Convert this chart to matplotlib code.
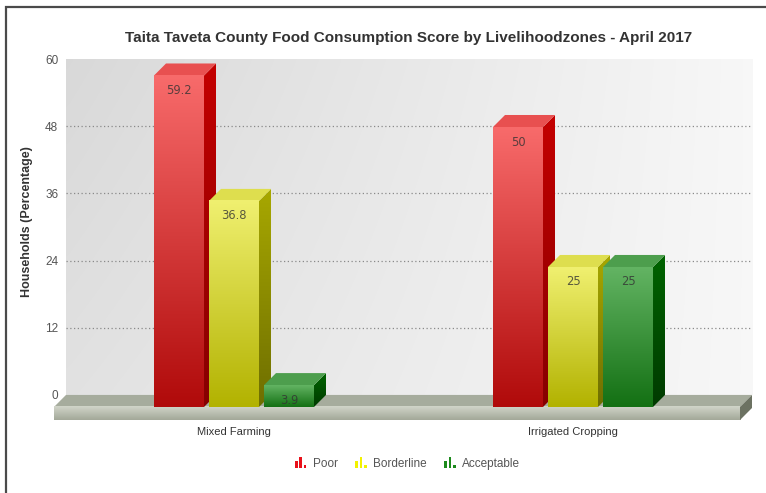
import numpy as np
import matplotlib
matplotlib.use("Agg")
import matplotlib.pyplot as plt
from matplotlib.patches import Polygon, Rectangle
from matplotlib.legend_handler import HandlerBase
from matplotlib.colors import LinearSegmentedColormap

# ---- data ----
zones = ["Mixed Farming", "Irrigated Cropping"]
series = ["Poor", "Borderline", "Acceptable"]
poor = [59.2, 50]
borderline = [36.8, 25]
acceptable = [3.9, 25]
y_ticks = [0, 12, 24, 36, 48, 60]
title = "Taita Taveta County Food Consumption Score by Livelihoodzones - April 2017"
y_title = "Households (Percentage)"

values = [poor, borderline, acceptable]

# colours per series: front top, front bottom, side top, side bottom, top face, legend
styles = {
    "Poor":       dict(ft="#f86b6b", fb="#b00a0a", st="#c40000", sb="#860000", top="#e85050", leg="#e8101a"),
    "Borderline": dict(ft="#f0f070", fb="#b2b200", st="#a8a800", sb="#6e6e00", top="#dede4e", leg="#f2f200"),
    "Acceptable": dict(ft="#63b463", fb="#137013", st="#006400", sb="#003a00", top="#4d9e4d", leg="#1c8a1c"),
}

# ---- figure / axes geometry ----
W, H = 766, 493
DPI = 100
fig = plt.figure(figsize=(W / DPI, H / DPI), dpi=DPI)
fig.patch.set_facecolor("white")

px_group = 339.0          # pixels between group centres
px_val = 335.0 / 60.0     # pixels per percentage point
depth_px = 12.0           # 3D depth offset
floor_px = 13.0           # floor slab thickness

DX = depth_px / px_group
DY = depth_px / px_val
FT = floor_px / px_val

xb0, xmax = -0.531, 1.4926            # back plane horizontal extent
xmin = xb0 - DX
ymin = -DY - FT
ax_left, ax_right, ax_top, ax_bot = 54, 752, 59, 420
ax = fig.add_axes([ax_left / W, 1 - ax_bot / H, (ax_right - ax_left) / W, (ax_bot - ax_top) / H])
ax.set_facecolor("none")
for s in ax.spines.values():
    s.set_visible(False)

# ---- back plane with soft grey gradient ----
gx = np.linspace(0, 1, 200)
gy = np.linspace(0, 1, 120)
GX, GY = np.meshgrid(gx, gy)
shade = 0.85 + 0.12 * GX + 0.035 * (1 - GY) * (1 - GX)
shade = np.clip(shade, 0, 1)
bg = np.dstack([shade, shade, shade])
ax.imshow(bg, extent=(xb0, xmax, 0, 60), origin="lower", aspect="auto",
          interpolation="bicubic", zorder=0)

# dotted grid lines on the back plane
ax.hlines(y_ticks[1:-1], xb0, xmax, colors="#8a8a8a", linestyles=(0, (1, 2)),
          linewidth=0.9, zorder=1)


def vgrad(x0, x1, y0, y1, c_top, c_bot, z, clip=None):
    cmap = LinearSegmentedColormap.from_list("g", [c_bot, c_top])
    g = np.linspace(0, 1, 256).reshape(-1, 1)
    im = ax.imshow(g, cmap=cmap, extent=(x0, x1, y0, y1), origin="lower",
                   aspect="auto", interpolation="bicubic", zorder=z)
    if clip is not None:
        im.set_clip_path(clip)
    return im


# ---- floor slab ----
floor_top = Polygon([(xb0, 0), (xmax, 0), (xmax - DX, -DY), (xb0 - DX, -DY)],
                    closed=True, facecolor="#a6ac9d", edgecolor="none", zorder=2)
ax.add_patch(floor_top)
vgrad(xb0 - DX, xmax - DX, -DY - FT, -DY, "#d2d5ca", "#a2a898", 2)
floor_side = Polygon([(xmax - DX, -DY), (xmax, 0), (xmax, -FT), (xmax - DX, -DY - FT)],
                     closed=True, facecolor="#6c7262", edgecolor="none", zorder=2)
ax.add_patch(floor_side)

# ---- 3D bars ----
bar_w = 50.0 / px_group
bar_step = 55.0 / px_group
z = 3
for gi in range(len(zones)):
    for si, name in enumerate(series):
        v = values[si][gi]
        st = styles[name]
        x0 = gi + (si - 1) * bar_step - bar_w / 2
        x1 = x0 + bar_w
        # side face
        side = Polygon([(x1 - DX, -DY), (x1, 0), (x1, v), (x1 - DX, v - DY)],
                       closed=True, transform=ax.transData, facecolor="none", edgecolor="none")
        ax.add_patch(side)
        vgrad(x1 - DX, x1, -DY, v, st["st"], st["sb"], z, clip=side)
        # top face
        ax.add_patch(Polygon([(x0 - DX, v - DY), (x1 - DX, v - DY), (x1, v), (x0, v)],
                             closed=True, facecolor=st["top"], edgecolor="none", zorder=z))
        # front face
        vgrad(x0 - DX, x1 - DX, -DY, v - DY, st["ft"], st["fb"], z + 0.5)
        # value label
        ax.annotate(f"{v:g}", ((x0 + x1) / 2 - DX, v - DY), xytext=(0, -15),
                    textcoords="offset pixels", ha="center", va="center",
                    fontsize=8.3, color="#333333", alpha=0.8, zorder=z + 0.8,
                    family="DejaVu Sans")
        z += 1

ax.set_xlim(xmin, xmax)
ax.set_ylim(ymin, 60)

# ---- axes text ----
ax.set_yticks(y_ticks)
ax.set_yticklabels([str(t) for t in y_ticks])
ax.tick_params(axis="y", length=0, pad=-3, labelsize=8.5, labelcolor="#555555")
for lab in ax.get_yticklabels():
    lab.set_family("Liberation Sans")

ax.set_xticks([gi - DX for gi in range(len(zones))])
ax.set_xticklabels(zones)
ax.tick_params(axis="x", length=0, pad=5, labelsize=8, labelcolor="#333333")
for lab in ax.get_xticklabels():
    lab.set_family("Liberation Sans")

ax.set_ylabel(y_title, fontsize=9, fontweight="bold", color="#333333",
              family="Liberation Sans")
ax.yaxis.set_label_coords(-0.03, (ax_bot - 222) / (ax_bot - ax_top))

fig.text(0.533, 1 - 38 / H, title, ha="center", va="center", fontsize=11,
         fontweight="bold", color="#333333", family="Liberation Sans")

# outer frame
fig.add_artist(Rectangle((6 / W, -0.2), 1.3, 1 - 7 / H + 0.2, transform=fig.transFigure,
                         fill=False, edgecolor="#4a4a4a", linewidth=1.6))


# ---- legend with small bar-chart glyphs ----
class BarGlyph(HandlerBase):
    def create_artists(self, legend, orig_handle, xdescent, ydescent,
                       width, height, fontsize, trans):
        col = orig_handle.get_facecolor()
        bw = width * 0.22
        step = width * 0.38
        arts = []
        for i, h in enumerate([0.65, 1.0, 0.3]):
            r = Rectangle((-xdescent + i * step, -ydescent - height * 0.1), bw,
                          height * 1.3 * h, facecolor=col, edgecolor="none", transform=trans)
            arts.append(r)
        return arts


handles = [Rectangle((0, 0), 1, 1, facecolor=styles[n]["leg"]) for n in series]
leg = fig.legend(handles, series, loc="center", bbox_to_anchor=(0.532, 1 - 464 / H),
                 ncol=3, frameon=False, fontsize=8.5, handlelength=1.0, handleheight=0.75,
                 handletextpad=0.5, columnspacing=1.5,
                 handler_map={Rectangle: BarGlyph()})
for t in leg.get_texts():
    t.set_color("#555555")
    t.set_family("Liberation Sans")

fig.savefig("out.png", dpi=DPI)
